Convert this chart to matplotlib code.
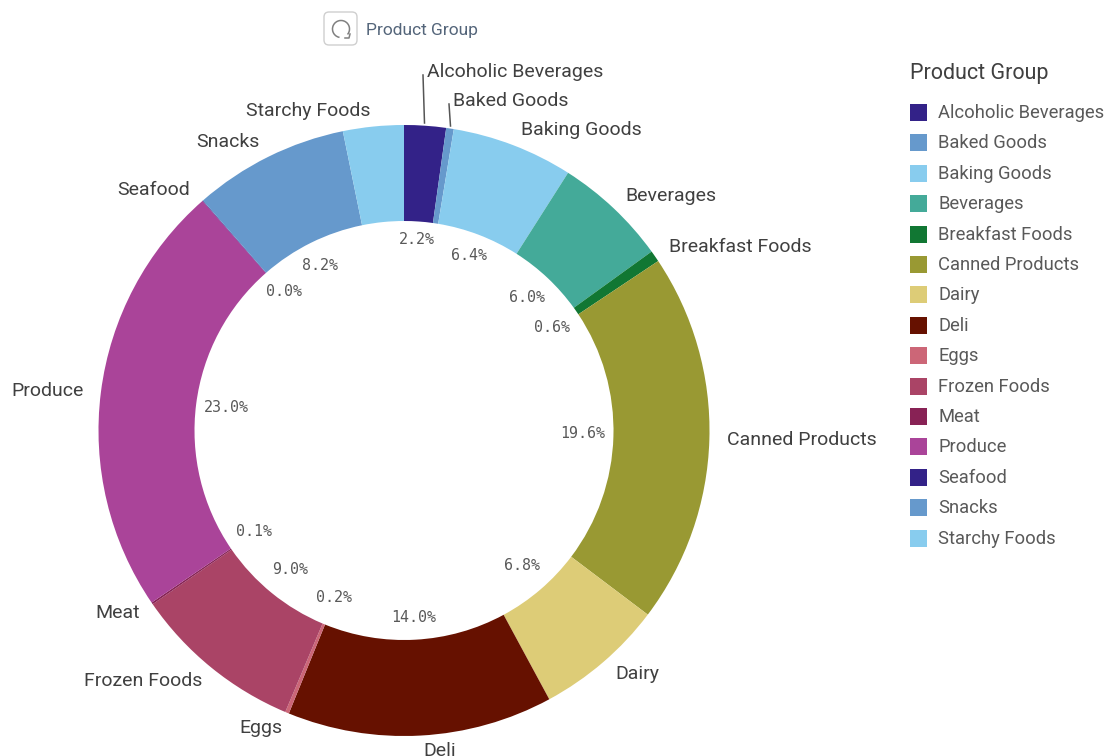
"""Product group share donut chart with legend."""

import matplotlib
matplotlib.use("Agg")
import matplotlib.pyplot as plt
from matplotlib.patches import Arc, FancyBboxPatch, Rectangle

# Data
GROUPS = [
    "Alcoholic Beverages", "Baked Goods", "Baking Goods", "Beverages",
    "Breakfast Foods", "Canned Products", "Dairy", "Deli", "Eggs",
    "Frozen Foods", "Meat", "Produce", "Seafood", "Snacks", "Starchy Foods",
]
SHARES = [2.2, 0.4, 6.4, 6.0, 0.6, 19.6, 6.8, 14.0, 0.2, 9.0, 0.1, 23.0, 0.03, 8.2, 3.2]
SHARE_LABELS = ["2.2%", None, "6.4%", "6.0%", "0.6%", "19.6%", "6.8%", "14.0%",
                "0.2%", "9.0%", "0.1%", "23.0%", "0.0%", "8.2%", None]
COLORS = [
    "#332288", "#6699CC", "#88CCEE", "#44AA99", "#117733", "#999933", "#DDCC77",
    "#661100", "#CC6677", "#AA4466", "#882255", "#AA4499", "#332288", "#6699CC",
    "#88CCEE",
]

# Label placement, in canvas pixels
NAME_POS = [
    (515, 72), (511, 101), (581, 130), (671, 196), (740, 247), (802, 440),
    (637, 674), (440, 751), (261, 728), (143, 681), (118, 613), (48, 391),
    (154, 190), (228, 142), (308, 111),
]
SHARE_POS = [
    (417, 239), None, (469, 256), (527, 298), (552, 327), (583, 434), (522, 566),
    (414, 617), (334, 598), (290, 570), (254, 531), (226, 408), (284, 292),
    (320, 265), None,
]

FONT = "Roboto"
TEXT = "#404040"
LEGEND_TEXT = "#595959"

fig = plt.figure(figsize=(11.04, 7.56), dpi=100)
ax = fig.add_axes([0, 0, 1, 1])

# y axis is flipped for pixel coords, so counterclock here reads clockwise
ax.pie(
    SHARES,
    colors=COLORS,
    center=(404, 430.5),
    radius=305.5,
    startangle=-90,
    counterclock=True,
    wedgeprops={"width": 96, "linewidth": 0},
    frame=True,
)

ax.set_xlim(0, 1104)
ax.set_ylim(756, 0)
ax.set_aspect("equal")
ax.axis("off")

for name, pos in zip(GROUPS, NAME_POS):
    ax.text(pos[0], pos[1], name, ha="center", va="center", fontsize=14,
            family=FONT, color=TEXT, clip_on=True)

for label, pos in zip(SHARE_LABELS, SHARE_POS):
    if label:
        ax.text(pos[0], pos[1], label, ha="center", va="center", fontsize=10.8,
                family="DejaVu Sans Mono", color="#595959")

# leader lines for the two thin top slices
ax.plot([424.5, 423], [123, 75], color="#555555", lw=1.1)
ax.plot([450.5, 449], [126, 104], color="#555555", lw=1.1)

# search box above the donut
ax.add_patch(FancyBboxPatch((324, 12), 33, 33, boxstyle="round,pad=0,rounding_size=5",
                            fc="white", ec="#CFCFCF", lw=1))
ax.add_patch(Arc((341, 29), 17, 17, theta1=100, theta2=40, color="#808080", lw=1.1))
ax.plot([345, 349, 350], [38, 38, 34], color="#808080", lw=1.1)
ax.text(366, 30, "Product Group", ha="left", va="center", fontsize=12.5,
        family=FONT, color="#54657A")

# legend
ax.text(910, 73, "Product Group", ha="left", va="center", fontsize=15.5,
        family=FONT, color="#404040")
for i, (name, color) in enumerate(zip(GROUPS, COLORS)):
    y = 112.5 + 30.4 * i
    ax.add_patch(Rectangle((910, y - 8.5), 17, 17, fc=color, ec="none"))
    ax.text(938, y + 0.5, name, ha="left", va="center", fontsize=13.2, family=FONT,
            color=LEGEND_TEXT)

fig.savefig("out.png", dpi=100)
